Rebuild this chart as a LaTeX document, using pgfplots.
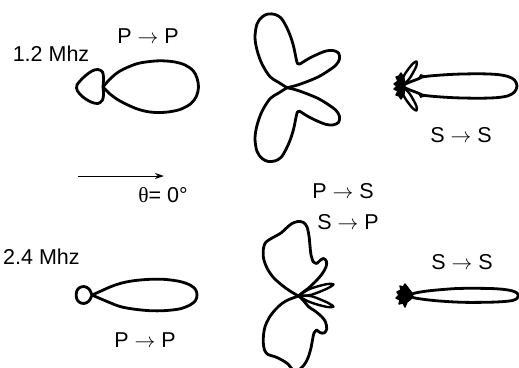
\documentclass[border=0pt]{standalone}
\usepackage{pgfplots}
\pgfplotsset{compat=1.18}
\usetikzlibrary{arrows.meta}
\usepackage{fontspec}
\setmainfont{Liberation Sans}
\newfontfamily\greekfont{Liberation Serif}

\tikzset{
  lobe/.style={black, line width=2.8pt, smooth, tension=0.55, line join=round, line cap=round},
  blob/.style={black, fill=black, line width=1.4pt, line join=round},
  lbl/.style={font=\fontsize{21.5}{23}\selectfont, inner sep=0pt},
}

\begin{document}
\begin{tikzpicture}
\begin{axis}[
  scale only axis,
  width=519pt, height=367pt,
  xmin=0, xmax=519, ymin=0, ymax=367,
  y dir=reverse,
  hide axis,
  clip=true,
]
% ---- 1.2 MHz, P->P
\addplot[lobe] coordinates {
  (103,87) (110,79) (120,71) (136,64) (150,61.5) (162,60.8) (175,62) (185,65)
  (193,70.5) (197,78) (198.5,87) (196.5,96) (191,103.5) (180,109.5) (165,112.3)
  (150,112) (136,108.5) (120,101) (110,94) (103,87)};
\addplot[lobe] coordinates {
  (103,87) (103.5,78) (102.5,72) (98,69.5) (92,71) (84,77) (77,85) (77.5,91)
  (83,97) (91,102) (98,103.5) (102.5,100) (103.5,94) (103,87)};

% ---- 1.2 MHz, P->S / S->P
\addplot[lobe] coordinates {
  (287,87.7) (278,82) (270,76.7) (262,64) (257,50) (255,37) (257,24) (262,17)
  (268,14) (275,14.5) (281,18) (286,26) (290,35) (293.5,46) (296,58) (297.5,63.5) (300,64)};
\addplot[lobe] coordinates {
  (300,64) (308,59) (317,54.5) (326,51) (333,50.5) (338.5,53) (339.5,59) (336,65)
  (328,71) (318,77) (306,82) (296,85.5) (287,87.7)};
\addplot[lobe] coordinates {
  (287,87.7) (278,93.4) (270,98.7) (262,111.4) (257,125.4) (255,138.4) (257,151.4)
  (262,158.4) (268,161.4) (275,160.9) (281,157.4) (286,149.4) (290,140.4) (293.5,129.4)
  (296,117.4) (297.5,111.9) (300,111.4)};
\addplot[lobe] coordinates {
  (300,111.4) (308,116.4) (317,120.9) (326,124.4) (333,124.9) (338.5,122.4) (339.5,116.4)
  (336,110.4) (328,104.4) (318,98.4) (306,93.4) (296,89.9) (287,87.7)};

% ---- 1.2 MHz, S->S
\addplot[lobe] coordinates {
  (401,86) (410,82) (418,79) (422,77) (435,75.5) (456,74.2) (480,73.8) (497,74.5)
  (508,76.5) (514.5,80) (517,86) (514.5,92) (508,95.8) (497,97.6) (480,98.2)
  (456,97.8) (435,96.5) (422,95) (418,93) (410,90) (401,86)};
\addplot[lobe, line width=2.4pt] coordinates {
  (401,86) (408.3,80.1) (413.1,72.6) (416.4,65.9) (416.5,61.5) (412.8,63.7)
  (408.1,69.4) (403.3,76.9) (401,86)};
\addplot[lobe, line width=2.4pt] coordinates {
  (401,86) (408.3,91.9) (413.1,99.4) (416.4,106.1) (416.5,110.5) (412.8,108.3)
  (408.1,102.6) (403.3,95.1) (401,86)};
\addplot[blob] coordinates {
  (404,78) (401,73) (399,76) (396,77) (398,81) (394,84) (397,86) (394,89) (398,91)
  (396,95) (399,96) (401,99) (404,94) (405,86) (404,78)};
\addplot[black, line width=2.4pt] coordinates {(419,79) (421,75.5) (424,76.5)};
\addplot[black, line width=2.4pt] coordinates {(419,93) (421,96.5) (424,95.5)};

% ---- 2.4 MHz, P->P
\addplot[lobe] coordinates {
  (92,295) (100,291.5) (110,287) (120,283.5) (133,280.8) (150,279.3) (165,279.4)
  (180,281.5) (190,285) (195.5,289.5) (197,295) (195.5,300.5) (190,305) (180,308.8)
  (165,310.6) (150,310.7) (133,309) (120,306.5) (110,302.7) (100,298.5) (92,295)};
\addplot[lobe] coordinates {
  (92,295) (89,289) (84,286.5) (79,288) (76.5,292) (76.5,298) (79,302) (84,303.5)
  (89,301) (92,295)};

% ---- 2.4 MHz, P->S / S->P
\addplot[lobe] coordinates {
  (298.5,296) (290,291) (281.7,285) (273,277) (267,268) (263.5,258) (263.5,248)
  (266,242) (273,237.5) (281,233) (287,227.5) (292,223.5) (298,221.5) (303.5,222.5)
  (307,227) (309,236) (310,246) (311,255) (313,261.5)};
\addplot[lobe] coordinates {
  (313,261.5) (316.5,263.5) (320,260.5) (323.5,258.5) (326.5,261.5) (326,267)
  (322,274) (315,282) (308,288.5) (302,293) (298.5,296)};
\addplot[lobe, line width=2.4pt] coordinates {
  (298.5,296) (308.1,289.7) (318.6,286.1) (327.7,284) (333.5,284.3) (329,287.6)
  (320.4,291.5) (309.9,295.1) (298.5,296)};
\addplot[lobe, line width=2.4pt] coordinates {
  (298.5,296) (308.1,301.3) (318.6,304.9) (327.7,307) (333.5,306.7) (329,303.4)
  (320.4,299.5) (309.9,295.9) (298.5,296)};
\addplot[lobe] coordinates {
  (298.5,296) (303,300) (308.5,306.7) (315,311) (321.7,316.7) (325.5,322)
  (326.7,329) (324,333) (320,332.5) (316.7,330)};
\addplot[lobe] coordinates {
  (316.7,330) (314,333) (312.5,340) (310.5,350) (307.5,359) (304,365) (300,369)
  (296,371) (292,369) (288,364) (281,359.5) (275,356.7) (268,354.5) (264.5,350)
  (263.3,343) (263.5,335) (265,326.7) (269,318) (275,310) (282,303.5) (289,299.5) (298.5,296)};

% ---- 2.4 MHz, S->S
\addplot[lobe] coordinates {
  (410,295.7) (414,293.3) (425,291.3) (437,290) (455,288.6) (470,288.3) (490,288.5)
  (503,289.3) (512,290.8) (517,293) (518.5,295.7) (517,298.5) (512,300.6) (503,301.6)
  (490,302.2) (470,302.4) (455,302) (437,300.8) (425,299.5) (414,297.8) (410,295.7)};
\addplot[blob] coordinates {
  (408,288) (405,284) (403,287) (400,286) (401,290) (397,292) (399,295) (396,298)
  (400,300) (399,304) (403,303) (405,307) (407,302) (411,299) (412,293) (408,288)};

% ---- direction arrow
\addplot[black, line width=1pt, -{Stealth[length=9pt, width=6pt]}] coordinates {(78,176) (164,176)};

% ---- labels
\node[lbl] at (axis cs:51,54) {1.2 Mhz};
\node[lbl] at (axis cs:148,36) {P $\rightarrow$ P};
\node[lbl] at (axis cs:461,135) {S $\rightarrow$ S};
\node[lbl] at (axis cs:163,195) {{\greekfont θ}= 0°};
\node[lbl] at (axis cs:343,191) {P $\rightarrow$ S};
\node[lbl] at (axis cs:348,222) {S $\rightarrow$ P};
\node[lbl, anchor=west] at (axis cs:3,257) {2.4 Mhz};
\node[lbl] at (axis cs:145,340) {P $\rightarrow$ P};
\node[lbl] at (axis cs:462,262) {S $\rightarrow$ S};
\end{axis}
\pgfresetboundingbox
\path (current axis.south west) rectangle (current axis.north east);
\end{tikzpicture}
\end{document}
